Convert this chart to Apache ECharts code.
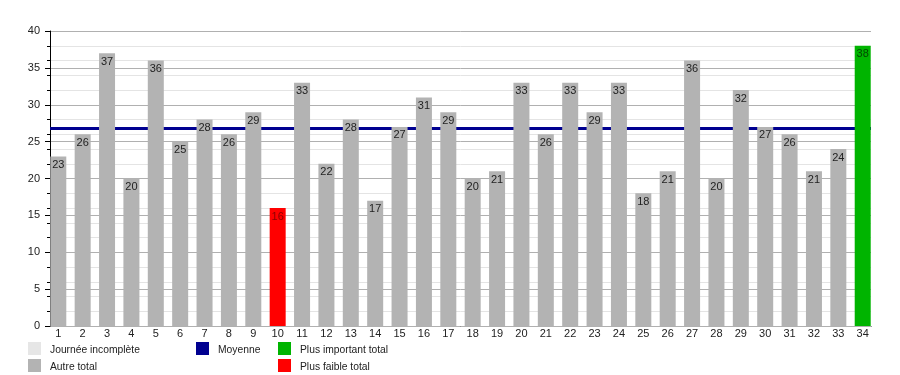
<!DOCTYPE html>
<html>
<head>
<meta charset="utf-8">
<script src="https://cdn.jsdelivr.net/npm/echarts@6/dist/echarts.min.js"></script>
<style>
html,body{margin:0;padding:0;background:#fff;}
#chart{width:900px;height:375px;}
</style>
</head>
<body>
<div id="chart"></div>
<script>
const days = [1,2,3,4,5,6,7,8,9,10,11,12,13,14,15,16,17,18,19,20,21,22,23,24,25,26,27,28,29,30,31,32,33,34];
const totals = [23,26,37,20,36,25,28,26,29,16,33,22,28,17,27,31,29,20,21,33,26,33,29,33,18,21,36,20,32,27,26,21,24,38];
const meanValue = 26.8;
const legendRow1 = ['Journée incomplète','Moyenne','Plus important total'];
const legendRow2 = ['Autre total','Plus faible total'];

const C_GRAY = '#b3b3b3', C_RED = '#ff0000', C_GREEN = '#00b400', C_NAVY = '#000090', C_LIGHT = '#e6e6e6';
const FONT = 'Liberation Sans, Arial, sans-serif';

const maxV = Math.max(...totals), minV = Math.min(...totals);
const barData = days.map((d, i) => {
  const v = totals[i];
  let color = C_GRAY, lc = '#222';
  if (v === maxV) { color = C_GREEN; lc = '#004a00'; }
  else if (v === minV) { color = C_RED; lc = '#8a0000'; }
  return { value: [d, v], itemStyle: { color }, label: { color: lc } };
});

const chart = echarts.init(document.getElementById('chart'), null, { renderer: 'canvas' });

function legendItem(x, y, color, text) {
  return [
    { type: 'rect', shape: { x: x, y: y, width: 13, height: 13 }, style: { fill: color } },
    { type: 'text', x: x + 22, y: y + 8.5, style: { text: text, font: '10.3px ' + FONT, fill: '#222', verticalAlign: 'middle' } }
  ];
}

chart.setOption({
  animation: false,
  backgroundColor: '#fff',
  grid: { left: 50, right: 29, top: 31, bottom: 49, containLabel: false },
  xAxis: {
    type: 'value', min: 0.66, max: 34.34,
    axisLine: { show: true, lineStyle: { color: '#000', width: 1 } },
    axisTick: { show: false },
    splitLine: { show: false },
    axisLabel: { customValues: days, margin: 2, fontSize: 11, fontFamily: FONT, color: '#222' }
  },
  yAxis: [
    {
      type: 'value', min: 0, max: 40, interval: 5, position: 'left', z: 1,
      axisLine: { show: true, lineStyle: { color: '#000', width: 1 } },
      axisTick: { show: true, length: 5, lineStyle: { color: '#000' } },
      axisLabel: { margin: 10, fontSize: 11, fontFamily: FONT, color: '#222' },
      splitLine: { show: true, lineStyle: { color: '#b0b0b0', width: 1 } }
    },
    {
      type: 'value', min: 0, max: 40, interval: 2, position: 'left', offset: 0, z: 0,
      axisLine: { show: false },
      axisTick: { show: true, length: 3, lineStyle: { color: '#000' } },
      axisLabel: { show: false },
      splitLine: { show: true, lineStyle: { color: '#e4e4e4', width: 1 } }
    }
  ],
  series: [
    {
      type: 'line', yAxisIndex: 0, z: 2, data: [], silent: true,
      markLine: {
        silent: true, symbol: 'none', label: { show: false }, z: 2,
        lineStyle: { color: C_NAVY, width: 3, type: 'solid' },
        data: [{ yAxis: meanValue }]
      }
    },
    {
      type: 'bar', yAxisIndex: 0, z: 3, barWidth: 16, data: barData,
      label: { show: true, position: 'insideTop', distance: 3, fontSize: 11, fontFamily: FONT }
    }
  ],
  graphic: [
    ...legendItem(28, 342, C_LIGHT, legendRow1[0]),
    ...legendItem(196, 342, C_NAVY, legendRow1[1]),
    ...legendItem(278, 342, C_GREEN, legendRow1[2]),
    ...legendItem(28, 359, C_GRAY, legendRow2[0]),
    ...legendItem(278, 359, C_RED, legendRow2[1])
  ]
});
</script>
</body>
</html>
